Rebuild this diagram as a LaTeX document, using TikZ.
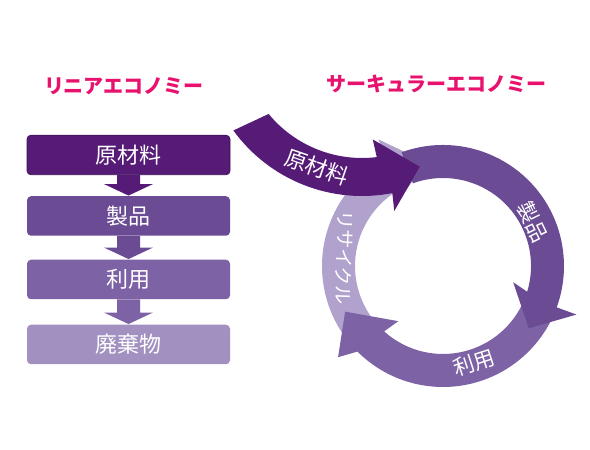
\documentclass[tikz,border=0pt]{standalone}
\usepackage{fontspec}
\newfontfamily\jp{Noto Sans CJK JP}
\usetikzlibrary{calc}
\definecolor{pinkt}{HTML}{E8126E}
\definecolor{cone}{HTML}{561B77}
\definecolor{coneb}{HTML}{3E1258}
\definecolor{ctwo}{HTML}{6B4C94}
\definecolor{cthree}{HTML}{7D63A6}
\definecolor{cfour}{HTML}{A190C0}
\definecolor{crec}{HTML}{B0A2CC}
\newcommand\dnarrow[3]{\fill[#1] let \p1=(#2.south), \p2=(#3.north) in
  (\x1-11.5pt,\y1) -- (\x1-11.5pt,\y2+12pt) -- (\x1-24.5pt,\y2+12pt) -- (\x1,\y2+0.5pt)
  -- (\x1+24.5pt,\y2+12pt) -- (\x1+11.5pt,\y2+12pt) -- (\x1+11.5pt,\y1) -- cycle;}
\begin{document}
\begin{tikzpicture}[x=1pt,y=1pt,
  box/.style={rounded corners=4pt, minimum width=203pt, minimum height=39.5pt, inner sep=0pt,
    text=white, font=\jp\fontsize{22}{26}\selectfont},
  ttl/.style={text=pinkt, font=\jp\bfseries\fontsize{20}{24}\selectfont, inner sep=0pt},
  lbl/.style={text=white, font=\jp\fontsize{21}{24}\selectfont, inner sep=0pt}]
\useasboundingbox (0,0) rectangle (590,450);
% titles
\node[ttl] (t1) at (124,364) {リニアエコノミー};
\node[ttl] (t2) at (436.5,366) {サーキュラーエコノミー};
% linear boxes
\node[box, fill=cone, draw=coneb, line width=0.8pt] (b1) at (128.5,295) {原材料};
\node[box, fill=ctwo] (b2) at (128.5,234) {製品};
\node[box, fill=cthree] (b3) at (128.5,170.5) {利用};
\node[box, fill=cfour] (b4) at (128.5,105.5) {廃棄物};
\dnarrow{cone}{b1}{b2}
\dnarrow{ctwo}{b2}{b3}
\dnarrow{cthree}{b3}{b4}
% circular economy ring
\begin{scope}[shift={(443,184)}]
\fill[crec] (222:121) arc[start angle=222,end angle=118,radius=121] -- (117:142) -- (99:105)
  -- (123:80) -- (118:88) arc[start angle=118,end angle=222,radius=88] -- cycle;
\fill[cthree] (340:121) arc[start angle=340,end angle=225,radius=121] -- (221:139) -- (205:108)
  -- (231:71) -- (228:88) arc[start angle=228,end angle=340,radius=88] -- cycle;
\fill[ctwo] (110:121) arc[start angle=110,end angle=-20,radius=121] -- (-20:142) -- (-36:106)
  -- (-13:72) -- (-17:88) arc[start angle=-17,end angle=110,radius=88] -- cycle;
\node[lbl, rotate=-64] (l2) at (26:100) {製品};
\node[lbl, rotate=18] (l3) at (-72:102) {利用};
\node[lbl, rotate=-92, font=\jp\fontsize{19}{22}\selectfont] (l4) at (175:99) {リサイクル};
\end{scope}
% raw material arrow
\begin{scope}[shift={(362,413)}]
\fill[cone] (219.5:121) arc[start angle=219.5,end angle=277,radius=121] -- (276:103) -- (294:142)
  -- (280.5:177) -- (281:159) arc[start angle=281,end angle=216,radius=159] -- cycle;
\node[lbl, rotate=-19, font=\jp\fontsize{22}{26}\selectfont] (l1) at (251:138) {原材料};
\end{scope}
\end{tikzpicture}
\end{document}
